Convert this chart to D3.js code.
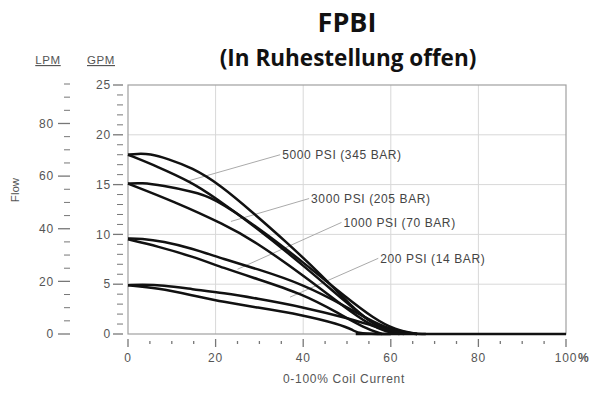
<!DOCTYPE html>
<html>
<head>
<meta charset="utf-8">
<script src="https://cdn.jsdelivr.net/npm/d3@7"></script>
<style>
  body { margin: 0; background: #fff; }
  svg text { font-family: "Liberation Sans", Arial, sans-serif; }
</style>
</head>
<body>
<div id="chart"></div>
<script>
// flow in GPM vs coil current (%), two branches per pressure (hysteresis loop)
var pressures = ["5000 PSI (345 BAR)", "3000 PSI (205 BAR)", "1000 PSI (70 BAR)", "200 PSI (14 BAR)"];

var upper5000 = [[0,18],[2,18.1],[5,18.1],[9,17.6],[14.6,16.7],[21,15.0],[29,12.0],[36,9.3],[44,6.0],[51,2.8],[55,1.3],[59,0.4],[63,0.05],[68,0]];
var lower5000 = [[0,18],[6.8,16.8],[14.6,15.2],[19.2,13.9],[29,10.8],[40,6.9],[50,3.1],[55,1.3],[59,0.3],[63,0]];
var upper3000 = [[0,15.1],[3,15.2],[8,14.9],[14.6,14.3],[19.2,13.8],[30,10.6],[40,7.2],[50,3.6],[56,1.6],[61,0.4],[66,0]];
var lower3000 = [[0,15.1],[10.5,13.3],[22,11.0],[29,9.3],[40,5.9],[50,2.5],[55,1.0],[59,0.2],[62,0]];
var upper1000 = [[0,9.6],[3,9.6],[8,9.3],[14.6,8.6],[22,7.5],[29,6.6],[40,5.0],[50,2.7],[56,1.2],[61,0.3],[66,0]];
var lower1000 = [[0,9.5],[6.8,8.8],[14.6,7.8],[22,6.6],[29,5.6],[40,4.0],[48,2.1],[54,0.6],[58,0]];
var upper200 = [[0,4.9],[3,4.95],[8,4.9],[14.6,4.5],[22,4.1],[29,3.6],[40,2.7],[50,1.6],[56,0.8],[61,0.2],[66,0]];
var lower200 = [[0,4.9],[6.8,4.6],[14.6,3.9],[22,3.2],[29,2.7],[40,1.9],[48,1.0],[51.5,0.4],[52.5,0],[60,0]];
var flat = [[52,0],[100,0]];

var curves = [upper5000, lower5000, upper3000, lower3000, upper1000, lower1000, upper200, lower200, flat];

// label anchors: [text x/y in data, leader end in data]
var labelPos = [
  { text: pressures[0], at: [35.2, 18.0], to: [14, 15.4] },
  { text: pressures[1], at: [41.8, 13.6], to: [23.5, 11.3] },
  { text: pressures[2], at: [49.2, 11.2], to: [25, 6.5] },
  { text: pressures[3], at: [57.6, 7.6], to: [37, 3.7] }
];

var xTicks = [0, 20, 40, 60, 80, 100];
var gpmTicks = [0, 5, 10, 15, 20, 25];
var lpmTicks = [0, 20, 40, 60, 80];

var width = 592, height = 394;
var plotLeft = 128, plotRight = 566, plotTop = 85, plotBottom = 334;
var LPM_PER_GPM = 3.785;

var svg = d3.select("#chart").append("svg")
    .attr("width", width)
    .attr("height", height);

var x = d3.scaleLinear().domain([0, 100]).range([plotLeft, plotRight]);
var y = d3.scaleLinear().domain([0, 25]).range([plotBottom, plotTop]);

// grid
svg.append("g").selectAll("line")
    .data([20, 40, 60, 80])
    .enter().append("line")
    .attr("x1", d => x(d)).attr("x2", d => x(d))
    .attr("y1", plotTop).attr("y2", plotBottom)
    .attr("stroke", "#d8d8d8").attr("stroke-width", 1);
svg.append("g").selectAll("line")
    .data([5, 10, 15, 20])
    .enter().append("line")
    .attr("x1", plotLeft).attr("x2", plotRight)
    .attr("y1", d => y(d)).attr("y2", d => y(d))
    .attr("stroke", "#d8d8d8").attr("stroke-width", 1);

// frame
svg.append("rect")
    .attr("x", plotLeft).attr("y", plotTop)
    .attr("width", plotRight - plotLeft).attr("height", plotBottom - plotTop)
    .attr("fill", "none").attr("stroke", "#a0a0a0").attr("stroke-width", 1.2);

// GPM axis
var gpmAxis = svg.append("g").attr("transform", "translate(" + (plotLeft - 5) + ",0)");
gpmAxis.selectAll("line")
    .data(d3.range(0, 26))
    .enter().append("line")
    .attr("x1", d => d % 5 == 0 ? -10 : -6).attr("x2", 0)
    .attr("y1", d => y(d)).attr("y2", d => y(d))
    .attr("stroke", "#777").attr("stroke-width", d => d % 5 == 0 ? 1.3 : 1);
gpmAxis.selectAll("text")
    .data(gpmTicks)
    .enter().append("text")
    .attr("x", -12).attr("y", d => y(d)).attr("dy", "0.35em")
    .attr("text-anchor", "end")
    .attr("font-size", 12).attr("letter-spacing", 0.8).attr("fill", "#555")
    .text(d => d);

// LPM axis
var yl = function (l) { return y(l / LPM_PER_GPM); };
var lpmAxis = svg.append("g").attr("transform", "translate(70,0)");
lpmAxis.selectAll("line")
    .data(d3.range(0, 100, 5))
    .enter().append("line")
    .attr("x1", d => d % 20 == 0 ? -12 : -6).attr("x2", 0)
    .attr("y1", d => yl(d)).attr("y2", d => yl(d))
    .attr("stroke", "#777").attr("stroke-width", d => d % 20 == 0 ? 1.3 : 1);
lpmAxis.selectAll("text")
    .data(lpmTicks)
    .enter().append("text")
    .attr("x", -16).attr("y", d => yl(d)).attr("dy", "0.35em")
    .attr("text-anchor", "end")
    .attr("font-size", 12).attr("letter-spacing", 0.8).attr("fill", "#555")
    .text(d => d);

// unit headers
[["LPM", 48], ["GPM", 101]].forEach(function (h) {
    svg.append("text")
        .attr("x", h[1]).attr("y", 64)
        .attr("text-anchor", "middle")
        .attr("font-size", 11.5).attr("letter-spacing", 0.6).attr("fill", "#555")
        .attr("text-decoration", "underline")
        .text(h[0]);
});

svg.append("text")
    .attr("transform", "translate(19,190) rotate(-90)")
    .attr("text-anchor", "middle")
    .attr("font-size", 11.5).attr("fill", "#555")
    .text("Flow");

// x axis
var xAxis = svg.append("g").attr("transform", "translate(0," + (plotBottom + 5) + ")");
xAxis.selectAll("line")
    .data(d3.range(0, 101, 5))
    .enter().append("line")
    .attr("x1", d => x(d)).attr("x2", d => x(d))
    .attr("y1", d => d % 20 == 0 ? 0 : 2).attr("y2", d => d % 20 == 0 ? 8 : 5)
    .attr("stroke", "#777").attr("stroke-width", 1.3);
xAxis.selectAll("text")
    .data(xTicks)
    .enter().append("text")
    .attr("x", d => x(d)).attr("y", 23)
    .attr("text-anchor", "middle")
    .attr("font-size", 12).attr("letter-spacing", 0.8).attr("fill", "#555")
    .text(d => d);
xAxis.append("text")
    .attr("x", x(100) + 12).attr("y", 23)
    .attr("font-size", 12).attr("font-weight", "bold").attr("fill", "#555")
    .text("%");

svg.append("text")
    .attr("x", 344).attr("y", 383)
    .attr("text-anchor", "middle")
    .attr("font-size", 12).attr("letter-spacing", 0.7).attr("fill", "#555")
    .text("0-100% Coil Current");

// leaders and labels
labelPos.forEach(function (l) {
    svg.append("line")
        .attr("x1", x(l.at[0]) - 2).attr("y1", y(l.at[1]))
        .attr("x2", x(l.to[0])).attr("y2", y(l.to[1]))
        .attr("stroke", "#aaa").attr("stroke-width", 1);
    svg.append("text")
        .attr("x", x(l.at[0])).attr("y", y(l.at[1])).attr("dy", "0.35em")
        .attr("font-size", 12).attr("letter-spacing", 0.6).attr("fill", "#444")
        .text(l.text);
});

// curves
var line = d3.line()
    .x(d => x(d[0]))
    .y(d => y(d[1]))
    .curve(d3.curveBasis);

svg.append("g").selectAll("path")
    .data(curves)
    .enter().append("path")
    .attr("d", line)
    .attr("fill", "none")
    .attr("stroke", "#111")
    .attr("stroke-width", 2.5);

// title
svg.append("text")
    .attr("x", 347).attr("y", 32)
    .attr("text-anchor", "middle")
    .style("font-family", "'Open Sans', sans-serif")
    .attr("font-size", 27).attr("font-weight", "bold").attr("fill", "#111")
    .text("FPBI");
svg.append("text")
    .attr("x", 348).attr("y", 66)
    .attr("text-anchor", "middle")
    .style("font-family", "'Open Sans', sans-serif")
    .attr("font-size", 22.5).attr("font-weight", "bold").attr("fill", "#111")
    .text("(In Ruhestellung offen)");
</script>
</body>
</html>
